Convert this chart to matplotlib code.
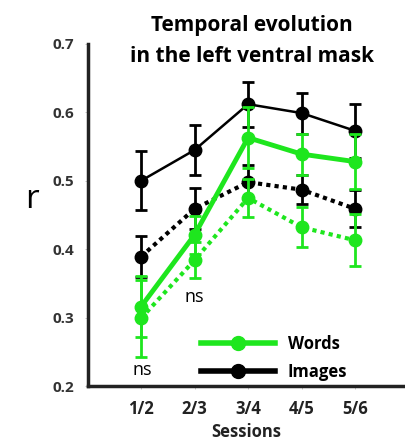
import matplotlib
matplotlib.use("Agg")
import matplotlib.pyplot as plt
from matplotlib.lines import Line2D
import numpy as np

plt.rcParams['font.family'] = ['Open Sans', 'DejaVu Sans']

sessions = ['1/2', '2/3', '3/4', '4/5', '5/6']

# Images (solid) and images (dotted)
images_solid = [0.500, 0.545, 0.612, 0.599, 0.573]
images_solid_err = [0.043, 0.037, 0.033, 0.030, 0.040]
images_dotted = [0.389, 0.459, 0.498, 0.487, 0.459]
images_dotted_err = [0.030, 0.030, 0.025, 0.021, 0.027]

# Words (solid) and words (dotted)
words_solid = [0.316, 0.421, 0.563, 0.539, 0.528]
words_solid_err = [0.045, 0.028, 0.045, 0.030, 0.040]
words_dotted = [0.299, 0.384, 0.475, 0.432, 0.413]
words_dotted_err = [0.056, 0.026, 0.028, 0.029, 0.038]

GREEN = '#1ee61e'
BLACK = '#000000'

fig = plt.figure(figsize=(4.05, 4.46), dpi=100)
ax = fig.add_axes([88 / 405, 1 - 386 / 446, 1 - 88 / 405, (386 - 44) / 446])

x = np.arange(1, len(sessions) + 1)

def series(vals, errs, color, lw, ls, z):
    ax.errorbar(x, vals, yerr=errs, fmt='none', ecolor=color, elinewidth=2,
                capsize=4, capthick=2, zorder=z)
    ax.plot(x, vals, color=color, lw=lw, ls=ls, zorder=z + 0.5)
    ax.plot(x, vals, 'o', color=color, ms=9, zorder=z + 1)

series(images_dotted, images_dotted_err, BLACK, 3, (0, (1, 1)), 2)
series(images_solid, images_solid_err, BLACK, 1.8, '-', 2)
series(words_dotted, words_dotted_err, GREEN, 3, (0, (1, 1)), 3)
series(words_solid, words_solid_err, GREEN, 3.5, '-', 3)

ax.set_xlim(0.01, 5.93)
ax.set_ylim(0.2, 0.7)
ax.set_yticks([0.2, 0.3, 0.4, 0.5, 0.6, 0.7])
ax.set_yticklabels(['0.2', '0.3', '0.4', '0.5', '0.6', '0.7'],
                   fontweight='bold', color='#333333', fontsize=11)
ax.set_xticks(x)
ax.set_xticklabels(sessions, fontweight='bold', color='#222222', fontsize=12)
ax.tick_params(axis='both', length=2, width=0.6, color='#bbbbbb')
ax.tick_params(axis='x', pad=8)
ax.tick_params(axis='y', pad=8)
ax.set_xlabel('Sessions', fontweight='bold', fontsize=12, color='#222222', labelpad=4)

for s in ['top', 'right']:
    ax.spines[s].set_visible(False)
for s in ['left', 'bottom']:
    ax.spines[s].set_linewidth(2.5)
    ax.spines[s].set_color('#222222')

ax.text(1.02, 0.224, 'ns', ha='center', va='center', fontsize=13)
ax.text(2, 0.330, 'ns', ha='center', va='center', fontsize=13)

handles = [Line2D([], [], color=GREEN, lw=4, marker='o', ms=10),
           Line2D([], [], color=BLACK, lw=4, marker='o', ms=10)]
ax.legend(handles, ['Words', 'Images'], loc='lower left',
          bbox_to_anchor=(0.31, -0.03), frameon=False, handlelength=4.4,
          handletextpad=0.8, labelspacing=0.6,
          prop={'weight': 'bold', 'size': 12})

fig.text(252 / 405, 1 - 25 / 446, 'Temporal evolution',
         ha='center', va='center', fontsize=15, fontweight='bold')
fig.text(252 / 405, 1 - 57 / 446, 'in the left ventral mask',
         ha='center', va='center', fontsize=15, fontweight='bold')
fig.text(32 / 405, 1 - 200 / 446, 'r', ha='center', va='center', fontsize=24)

fig.savefig('out.png', dpi=100)
